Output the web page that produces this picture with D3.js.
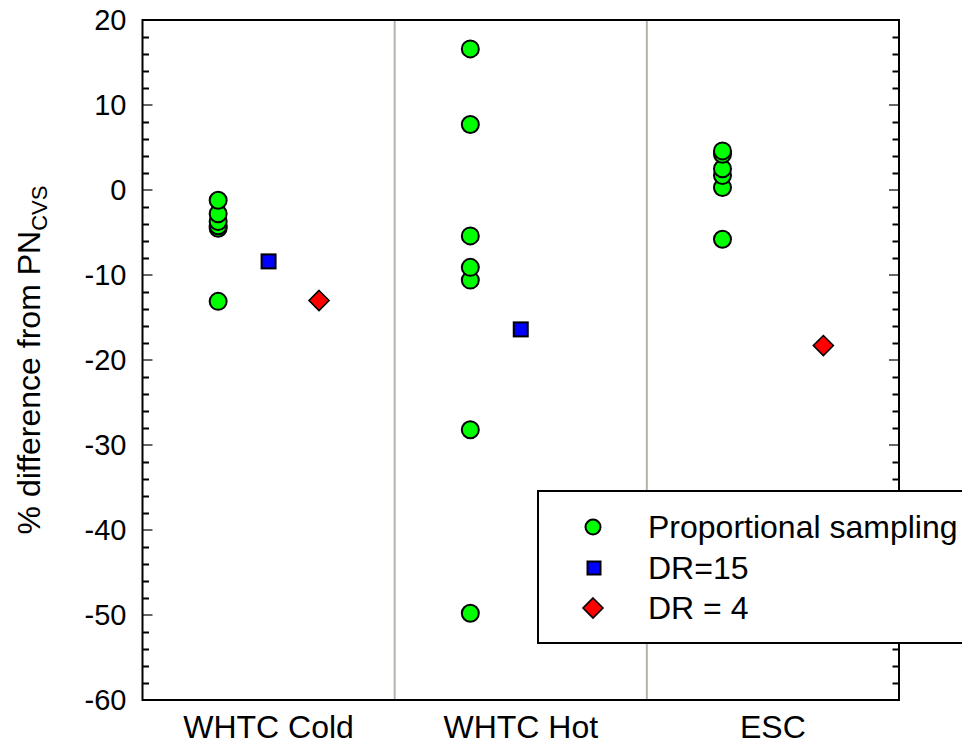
<!DOCTYPE html>
<html>
<head>
<meta charset="utf-8">
<script src="https://cdn.jsdelivr.net/npm/d3@7/dist/d3.min.js"></script>
<style>
  html, body { margin: 0; padding: 0; background: #fff; }
  svg { display: block; font-family: Arial, "Liberation Sans", sans-serif; }
</style>
</head>
<body>
<svg id="chart" width="962" height="744"></svg>
<script>
// Test cycles along the x axis
const categories = ["WHTC Cold", "WHTC Hot", "ESC"];

// % difference from PN measured in the CVS, per cycle
const proportionalSampling = [
  [-1.2, -2.8, -3.7, -4.2, -4.5, -13.1],
  [16.6, 7.7, -5.4, -9.1, -10.6, -28.2, -49.8],
  [4.6, 4.2, 2.5, 1.7, 0.3, -5.8]
];
const dr15 = [-8.4, -16.4, null];
const dr4 = [-13.0, null, -18.3];

const yTicks = [20, 10, 0, -10, -20, -30, -40, -50, -60];
const legendLabels = ["Proportional sampling", "DR=15", "DR = 4"];

(function () {
const svg = d3.select("#chart");
const plotLeft = 142.5, plotRight = 899, plotTop = 20, plotBottom = 700;

const x = d3.scaleLinear().domain([0, categories.length]).range([plotLeft, plotRight]);
const y = d3.scaleLinear().domain([-60, 20]).range([plotBottom, plotTop]);

// Gray separators between cycles
svg.append("g").selectAll("line")
  .data(d3.range(1, categories.length))
  .join("line")
  .attr("x1", d => x(d)).attr("x2", d => x(d))
  .attr("y1", plotTop).attr("y2", plotBottom)
  .attr("stroke", "#b3b3a9").attr("stroke-width", 2);

// Minor ticks (every 2 units), inward on both sides
const minor = d3.range(-58, 20, 2).filter(v => v % 10 !== 0);
const leftMinor = d3.axisLeft(y).tickValues(minor).tickSize(-6.5).tickFormat("");
const rightMinor = d3.axisRight(y).tickValues(minor).tickSize(-6.5).tickFormat("");
const gl = svg.append("g").attr("transform", `translate(${plotLeft},0)`).call(leftMinor);
const gr = svg.append("g").attr("transform", `translate(${plotRight},0)`).call(rightMinor);
[gl, gr].forEach(g => {
  g.select(".domain").remove();
  g.selectAll("line").attr("stroke", "#000").attr("stroke-width", 2);
});

// Major ticks with labels (plain hyphen for negatives)
const leftMajor = d3.axisLeft(y).tickValues(yTicks).tickSize(0).tickPadding(16).tickFormat(d => String(d));
const gL = svg.append("g").attr("transform", `translate(${plotLeft},0)`).call(leftMajor);
gL.select(".domain").remove();
gL.selectAll("text").attr("font-size", 29).attr("fill", "#000")
  .attr("font-family", "Arial, 'Liberation Sans', sans-serif");
svg.append("g").selectAll("line").data(yTicks.slice(1, -1)).join("line")
  .attr("x1", plotLeft).attr("x2", plotLeft + 10)
  .attr("y1", d => y(d)).attr("y2", d => y(d))
  .attr("stroke", "#000").attr("stroke-width", 1.2);
svg.append("g").selectAll("line").data(yTicks.slice(1, -1)).join("line")
  .attr("x1", plotRight).attr("x2", plotRight - 10)
  .attr("y1", d => y(d)).attr("y2", d => y(d))
  .attr("stroke", "#000").attr("stroke-width", 1.2);

// Frame
svg.append("rect")
  .attr("x", plotLeft).attr("y", plotTop)
  .attr("width", plotRight - plotLeft).attr("height", plotBottom - plotTop)
  .attr("fill", "none").attr("stroke", "#000").attr("stroke-width", 2);

// Category labels
svg.append("g").selectAll("text").data(categories).join("text")
  .attr("x", (d, i) => x(i + 0.5))
  .attr("y", 738)
  .attr("text-anchor", "middle")
  .attr("font-size", 32)
  .text(d => d);

// Y axis title with subscript
const title = svg.append("text")
  .attr("transform", `translate(40,360) rotate(-90)`)
  .attr("text-anchor", "middle")
  .attr("font-size", 32);
title.append("tspan").text("% difference from PN");
title.append("tspan").attr("font-size", 22).attr("dy", 7).text("CVS");

// Marker shapes
const circleR = 8.5;
function drawCircle(g, cx, cy, r) {
  g.append("circle").attr("cx", cx).attr("cy", cy).attr("r", r)
    .attr("fill", "#00ff00").attr("stroke", "#000").attr("stroke-width", 2);
}
function drawSquare(g, cx, cy, s) {
  g.append("rect").attr("x", cx - s / 2).attr("y", cy - s / 2)
    .attr("width", s).attr("height", s)
    .attr("fill", "#0000ff").attr("stroke", "#000").attr("stroke-width", 2);
}
function drawDiamond(g, cx, cy, h) {
  g.append("path")
    .attr("d", `M${cx},${cy - h}L${cx + h},${cy}L${cx},${cy + h}L${cx - h},${cy}Z`)
    .attr("fill", "#ff0000").attr("stroke", "#000").attr("stroke-width", 1.6);
}

const marks = svg.append("g");
// Proportional sampling points (drawn bottom to top so upper ones overlap)
proportionalSampling.forEach((vals, i) => {
  vals.slice().sort((a, b) => a - b).forEach(v => drawCircle(marks, x(i + 0.3), y(v), circleR));
});
dr15.forEach((v, i) => { if (v !== null) drawSquare(marks, x(i + 0.5), y(v), 14); });
dr4.forEach((v, i) => { if (v !== null) drawDiamond(marks, x(i + 0.7), y(v), 10); });

// Legend
const lg = svg.append("g");
lg.append("rect").attr("x", 538).attr("y", 491).attr("width", 440).attr("height", 152)
  .attr("fill", "#fff").attr("stroke", "#000").attr("stroke-width", 2);
const rowY = [527, 568, 608];
drawCircle(lg, 593, rowY[0], 7.5);
drawSquare(lg, 594, rowY[1], 13);
drawDiamond(lg, 593, rowY[2], 10);
lg.selectAll("text").data(legendLabels).join("text")
  .attr("x", 648)
  .attr("y", (d, i) => rowY[i] + 11)
  .attr("font-size", 32)
  .text(d => d);
})();
</script>
</body>
</html>
